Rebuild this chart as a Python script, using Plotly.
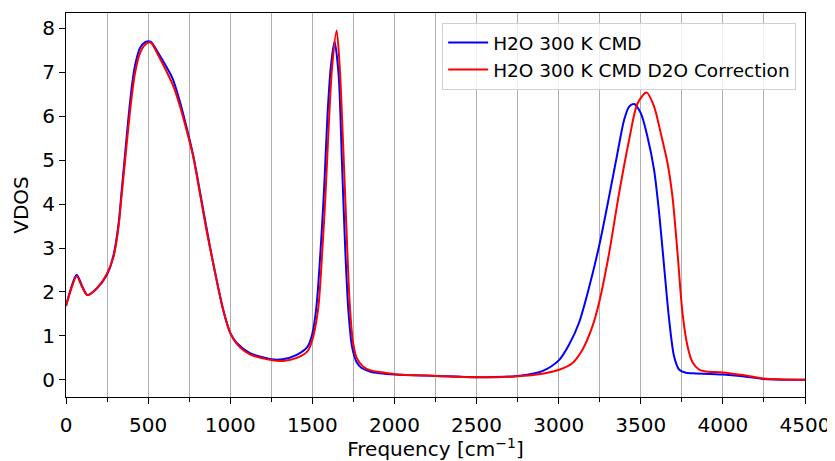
import plotly.graph_objects as go

freq_h2o = [0, 30, 65, 100, 130, 187, 250, 290, 320, 340, 360, 380, 400, 420, 450, 480,
            515, 560, 612, 650, 690, 734, 775, 815, 856, 896, 957, 1000, 1040, 1120, 1250,
            1320, 1405, 1470, 1500, 1525, 1556, 1575, 1592, 1612, 1635, 1660, 1680, 1700,
            1720, 1742, 1770, 1800, 1850, 1909, 2003, 2252, 2500, 2750, 2900, 3002, 3063,
            3124, 3185, 3250, 3307, 3358, 3398, 3429, 3459, 3500, 3541, 3581, 3612, 3642,
            3673, 3703, 3734, 3775, 3815, 4000, 4120, 4250, 4500]
vdos_h2o = [1.68, 2.08, 2.39, 2.12, 1.93, 2.08, 2.40, 2.85, 3.55, 4.35, 5.15, 5.95, 6.65,
            7.15, 7.55, 7.68, 7.70, 7.45, 7.12, 6.85, 6.38, 5.75, 5.10, 4.30, 3.45, 2.66,
            1.60, 1.07, 0.84, 0.61, 0.47, 0.47, 0.57, 0.75, 1.05, 1.67, 3.30, 4.60, 6.00,
            7.10, 7.70, 6.95, 5.00, 3.00, 1.55, 0.75, 0.40, 0.27, 0.19, 0.15, 0.12, 0.09,
            0.06, 0.09, 0.20, 0.45, 0.80, 1.30, 2.10, 3.11, 4.17, 5.16, 5.91, 6.22, 6.28,
            6.07, 5.53, 4.78, 3.79, 2.58, 1.36, 0.53, 0.23, 0.16, 0.15, 0.12, 0.08, 0.02,
            0.0]

freq_d2o = [0, 30, 65, 100, 130, 187, 250, 290, 320, 340, 360, 380, 400, 420, 450, 480,
            515, 560, 612, 650, 690, 734, 775, 815, 856, 896, 957, 1000, 1040, 1120, 1250,
            1320, 1405, 1470, 1495, 1535, 1560, 1580, 1600, 1620, 1648, 1667, 1687, 1707,
            1728, 1748, 1770, 1810, 1860, 1909, 2003, 2252, 2500, 2750, 2900, 3002, 3083,
            3144, 3205, 3250, 3307, 3368, 3429, 3480, 3535, 3581, 3622, 3663, 3693, 3724,
            3754, 3785, 3815, 3856, 3900, 4000, 4120, 4250, 4500]
vdos_d2o = [1.68, 2.05, 2.36, 2.10, 1.93, 2.08, 2.42, 2.81, 3.49, 4.25, 5.00, 5.76, 6.44,
            6.98, 7.43, 7.62, 7.68, 7.40, 7.02, 6.72, 6.28, 5.69, 5.08, 4.25, 3.40, 2.66,
            1.59, 1.07, 0.82, 0.58, 0.45, 0.43, 0.50, 0.65, 0.85, 1.60, 2.90, 4.20, 5.80,
            7.10, 7.95, 7.10, 5.40, 3.50, 1.70, 0.85, 0.50, 0.30, 0.21, 0.18, 0.13, 0.09,
            0.06, 0.08, 0.14, 0.23, 0.38, 0.68, 1.21, 1.82, 2.88, 4.25, 5.46, 6.29, 6.54,
            6.22, 5.61, 4.93, 4.17, 2.88, 1.52, 0.76, 0.40, 0.23, 0.19, 0.17, 0.11, 0.03,
            0.0]

x_ticks = [0, 500, 1000, 1500, 2000, 2500, 3000, 3500, 4000, 4500]
y_ticks = [0, 1, 2, 3, 4, 5, 6, 7, 8]

FONT = "DejaVu Sans"

fig = go.Figure()
fig.add_trace(go.Scatter(x=freq_h2o, y=vdos_h2o, mode="lines", name="H2O 300 K CMD",
                         line=dict(color="#0000ff", width=2, shape="spline", smoothing=0.8)))
fig.add_trace(go.Scatter(x=freq_d2o, y=vdos_d2o, mode="lines", name="H2O 300 K CMD D2O Correction",
                         line=dict(color="#ff0000", width=2, shape="spline", smoothing=0.8)))

# the page body adds an 8px offset; size the figure so the plot lands where the reference has it
fig.update_layout(
    width=827, height=453,
    margin=dict(l=58, r=30, t=5, b=64, autoexpand=False),
    paper_bgcolor="white", plot_bgcolor="white",
    font=dict(family=FONT, size=20, color="black"),
    showlegend=True,
    legend=dict(x=0.988, y=0.974, xanchor="right", yanchor="top",
                bgcolor="rgba(255,255,255,0.8)", bordercolor="#d0d0d0", borderwidth=1,
                font=dict(size=18.5), tracegroupgap=0, itemwidth=40),
)
fig.update_xaxes(
    range=[0, 4500], tickvals=x_ticks, ticks="outside", ticklen=6, tickwidth=1.2,
    tickcolor="black", showline=True, linecolor="black", linewidth=1.2, mirror=True,
    showgrid=True, gridcolor="#b0b0b0", gridwidth=1, zeroline=False, automargin=False,
    minor=dict(dtick=250, tick0=0, ticks="outside", ticklen=3.5, tickcolor="black",
               showgrid=True, gridcolor="#b0b0b0", gridwidth=1),
    ticklabelstandoff=4,
    title=dict(text="Frequency [cm<sup>−1</sup>]", standoff=5, font=dict(size=20)),
    tickfont=dict(size=20),
)
fig.update_yaxes(
    range=[-0.39, 8.35], tickvals=y_ticks, ticks="outside", ticklen=6, tickwidth=1.2,
    tickcolor="black", showline=True, linecolor="black", linewidth=1.2, mirror=True,
    showgrid=False, zeroline=False, automargin=False,
    title=dict(text="VDOS", standoff=8, font=dict(size=20)),
    tickfont=dict(size=20),
)

fig.write_html("out.html")
